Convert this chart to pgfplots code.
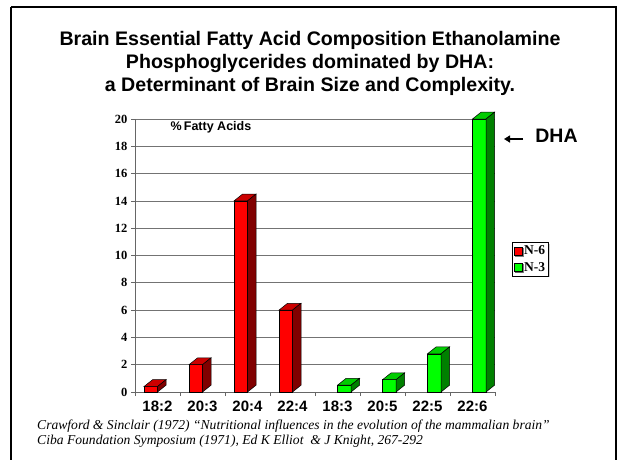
\documentclass[border=0pt]{standalone}
\usepackage{pgfplots}
\pgfplotsset{compat=1.18}
\usepackage{fontspec}
\setmainfont{Liberation Serif}
\setsansfont{Liberation Sans}
\usetikzlibrary{shadows,arrows.meta}
\definecolor{rfront}{HTML}{FF0000}
\definecolor{rtop}{HTML}{CC0000}
\definecolor{rside}{HTML}{800000}
\definecolor{gfront}{HTML}{00FF00}
\definecolor{gtop}{HTML}{00CC00}
\definecolor{gside}{HTML}{008000}
\begin{document}
\begin{tikzpicture}[x=1pt,y=1pt]
\useasboundingbox (0,0) rectangle (621,459);
\draw[line width=2pt] (11,452) -- (616,452) -- (616,-5) (11,452) -- (11,-5);
\node[align=center,font=\fontsize{19.6}{23}\selectfont\sffamily\bfseries] at (310,396)
 {Brain Essential Fatty Acid Composition Ethanolamine\\Phosphoglycerides dominated by DHA:\\a Determinant of Brain Size and Complexity.};
\begin{axis}[
  at={(135pt,67pt)}, anchor=south west,
  scale only axis, width=360pt, height=273pt,
  xmin=-0.5, xmax=7.5, ymin=0, ymax=20,
  clip=false,
  axis x line*=bottom, axis y line*=left,
  axis line style={draw=gray!80!black, line width=1pt},
  ytick={0,2,...,20},
  xtick={0,...,7},
  xticklabels={18:2,20:3,20:4,22:4,18:3,20:5,22:5,22:6},
  minor xtick={-0.5,0.5,...,7.5},
  major x tick style={draw=none},
  minor x tick style={draw=gray!80!black, line width=0.8pt},
  minor tick length=4pt,
  major tick length=4pt,
  tick align=outside,
  y tick style={draw=gray!80!black, line width=0.8pt},
  ymajorgrids, grid style={draw=gray!90!black, line width=0.8pt},
  /pgf/number format/assume math mode=true,
  yticklabel style={font=\fontsize{12.5}{14}\selectfont\bfseries, xshift=0pt},
  xticklabel style={font=\fontsize{15}{16}\selectfont\sffamily\bfseries, yshift=-1pt},
  legend style={at={(1.047,0.549)}, anchor=north west, draw=black, fill=white,
    font=\fontsize{13.5}{15}\selectfont\bfseries, inner sep=1.5pt, row sep=2pt,
    drop shadow={shadow xshift=1.2pt, shadow yshift=-1.2pt, fill=gray!70},
    /tikz/every even column/.append style={column sep=0pt}},
  legend cell align=left,
]
\addplot[ybar, bar width=0.3, bar shift=-0.15, fill=rfront, draw=black, line width=0.5pt,
  legend image code/.code={\draw[fill=rfront,draw=black,line width=0.5pt] (0pt,-4pt) rectangle (8pt,4pt);}]
  coordinates {(0,0.4) (1,2.0) (2,14.0) (3,6.0)};
\addlegendentry{N-6}
\addplot[ybar, bar width=0.3, bar shift=0.15, fill=gfront, draw=black, line width=0.5pt,
  legend image code/.code={\draw[fill=gfront,draw=black,line width=0.5pt] (0pt,-4pt) rectangle (8pt,4pt);}]
  coordinates {(4,0.5) (5,0.9) (6,2.8) (7,20.0)};
\addlegendentry{N-3}
% N-6 tops and sides
\addplot[forget plot, fill=rtop, draw=black, line width=0.5pt] coordinates {(-0.3,0.4)(0,0.4)(0.19,0.9)(-0.11,0.9)} -- cycle;
\addplot[forget plot, fill=rside, draw=black, line width=0.5pt] coordinates {(0,0)(0,0.4)(0.19,0.9)(0.19,0.5)} -- cycle;
\addplot[forget plot, fill=rtop, draw=black, line width=0.5pt] coordinates {(0.7,2)(1,2)(1.19,2.5)(0.89,2.5)} -- cycle;
\addplot[forget plot, fill=rside, draw=black, line width=0.5pt] coordinates {(1,0)(1,2)(1.19,2.5)(1.19,0.5)} -- cycle;
\addplot[forget plot, fill=rtop, draw=black, line width=0.5pt] coordinates {(1.7,14)(2,14)(2.19,14.5)(1.89,14.5)} -- cycle;
\addplot[forget plot, fill=rside, draw=black, line width=0.5pt] coordinates {(2,0)(2,14)(2.19,14.5)(2.19,0.5)} -- cycle;
\addplot[forget plot, fill=rtop, draw=black, line width=0.5pt] coordinates {(2.7,6)(3,6)(3.19,6.5)(2.89,6.5)} -- cycle;
\addplot[forget plot, fill=rside, draw=black, line width=0.5pt] coordinates {(3,0)(3,6)(3.19,6.5)(3.19,0.5)} -- cycle;
% N-3 tops and sides
\addplot[forget plot, fill=gtop, draw=black, line width=0.5pt] coordinates {(4,0.5)(4.3,0.5)(4.49,1)(4.19,1)} -- cycle;
\addplot[forget plot, fill=gside, draw=black, line width=0.5pt] coordinates {(4.3,0)(4.3,0.5)(4.49,1)(4.49,0.5)} -- cycle;
\addplot[forget plot, fill=gtop, draw=black, line width=0.5pt] coordinates {(5,0.9)(5.3,0.9)(5.49,1.4)(5.19,1.4)} -- cycle;
\addplot[forget plot, fill=gside, draw=black, line width=0.5pt] coordinates {(5.3,0)(5.3,0.9)(5.49,1.4)(5.49,0.5)} -- cycle;
\addplot[forget plot, fill=gtop, draw=black, line width=0.5pt] coordinates {(6,2.8)(6.3,2.8)(6.49,3.3)(6.19,3.3)} -- cycle;
\addplot[forget plot, fill=gside, draw=black, line width=0.5pt] coordinates {(6.3,0)(6.3,2.8)(6.49,3.3)(6.49,0.5)} -- cycle;
\addplot[forget plot, fill=gtop, draw=black, line width=0.5pt] coordinates {(7,20)(7.3,20)(7.49,20.5)(7.19,20.5)} -- cycle;
\addplot[forget plot, fill=gside, draw=black, line width=0.5pt] coordinates {(7.3,0)(7.3,20)(7.49,20.5)(7.49,0.5)} -- cycle;
\end{axis}
\node[font=\fontsize{12.5}{14}\selectfont\sffamily\bfseries] at (211,332) {\%\,Fatty Acids};
\node[font=\fontsize{19.5}{22}\selectfont\sffamily\bfseries] at (556.5,323) {DHA};
\draw[line width=2.2pt, -{Triangle[length=6pt,width=7pt]}] (523,320) -- (504,320);
\node[anchor=west, align=left, inner sep=0pt, font=\fontsize{13.6}{15}\selectfont\itshape] at (37,25.5)
 {Crawford \& Sinclair (1972) “Nutritional influences in the evolution of the mammalian brain”\\Ciba Foundation Symposium (1971), Ed K Elliot\ \ \& J Knight, 267-292};
\end{tikzpicture}
\end{document}
